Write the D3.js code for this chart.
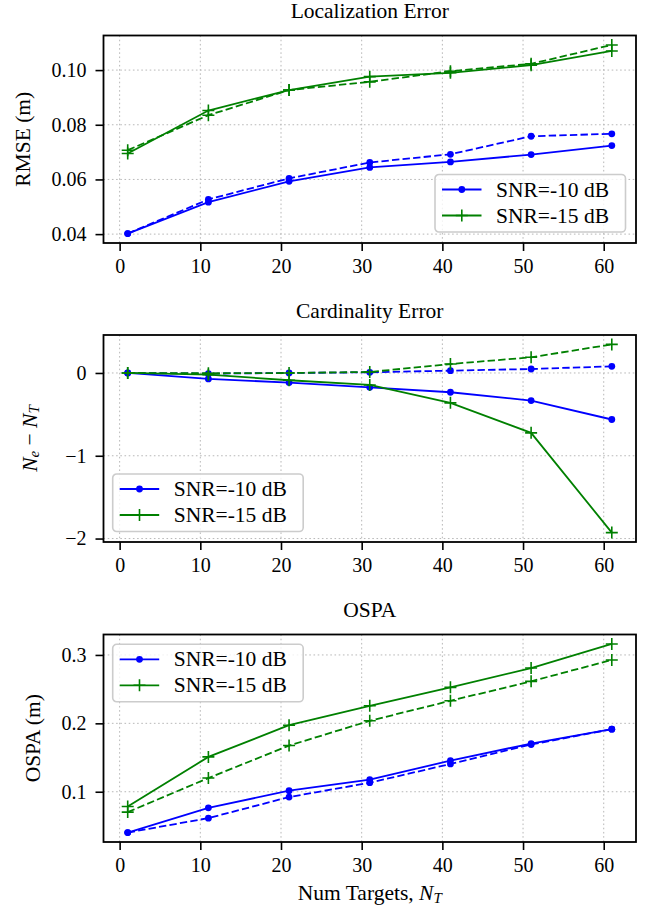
<!DOCTYPE html>
<html>
<head>
<meta charset="utf-8">
<script src="https://cdn.jsdelivr.net/npm/d3@7"></script>
<style>
  html, body { margin: 0; padding: 0; background: #fff; }
  svg { display: block; }
</style>
</head>
<body>
<svg id="chart" width="649" height="910"></svg>
<script>
// ---------------- DATA ----------------
const numTargets = [1, 11, 21, 31, 41, 51, 61];
const xTicks = [0, 10, 20, 30, 40, 50, 60];

const seriesLabels = ["SNR=-10 dB", "SNR=-15 dB"];

// Localization error (RMSE, m)
const rmseSnr10Solid  = [0.0402, 0.0517, 0.0593, 0.0644, 0.0664, 0.0691, 0.0724];
const rmseSnr10Dashed = [0.0402, 0.0527, 0.0604, 0.0662, 0.0692, 0.0758, 0.0767];
const rmseSnr15Solid  = [0.0695, 0.0852, 0.0927, 0.0976, 0.0990, 0.1018, 0.1070];
const rmseSnr15Dashed = [0.0707, 0.0835, 0.0927, 0.0957, 0.0996, 0.1023, 0.1092];
const rmseTicks = [0.04, 0.06, 0.08, 0.10];

// Cardinality error (N_e - N_T)
const cardSnr10Solid  = [0.000, -0.072, -0.116, -0.173, -0.233, -0.333, -0.562];
const cardSnr10Dashed = [0.000, -0.008,  0.000,  0.008,  0.028,  0.048,  0.080];
const cardSnr15Solid  = [0.000, -0.020, -0.088, -0.145, -0.361, -0.723, -1.928];
const cardSnr15Dashed = [0.000, -0.004,  0.000,  0.012,  0.108,  0.189,  0.345];
const cardTicks = [-2, -1, 0];

// OSPA (m)
const ospaSnr10Solid  = [0.0403, 0.0765, 0.1015, 0.1176, 0.1455, 0.1704, 0.1914];
const ospaSnr10Dashed = [0.0403, 0.0614, 0.0922, 0.1132, 0.1406, 0.1690, 0.1914];
const ospaSnr15Solid  = [0.0785, 0.1509, 0.1973, 0.2257, 0.2526, 0.2809, 0.3161];
const ospaSnr15Dashed = [0.0702, 0.1200, 0.1675, 0.2037, 0.2330, 0.2614, 0.2927];
const ospaTicks = [0.1, 0.2, 0.3];

// ---------------- STYLE / LAYOUT ----------------
const FONT = "'Liberation Serif', 'Times New Roman', serif";
const BLUE = "#0000ff", GREEN = "#008000";
const axLeft = 103.5, axRight = 636;

const panels = [
  { title: "Localization Error", top: 35.5, bottom: 243,
    data: [rmseSnr10Solid, rmseSnr10Dashed, rmseSnr15Solid, rmseSnr15Dashed],
    yTicks: rmseTicks, fmt: d3.format(".2f"), ylabel: "RMSE (m)", ylabelX: 23,
    legend: { x: 435, y: 174.5 } },
  { title: "Cardinality Error", top: 335, bottom: 542,
    data: [cardSnr10Solid, cardSnr10Dashed, cardSnr15Solid, cardSnr15Dashed],
    yTicks: cardTicks, fmt: d3.format("d"), ylabel: null, ylabelX: 30,
    legend: { x: 112.7, y: 474 } },
  { title: "OSPA", top: 634.5, bottom: 842,
    data: [ospaSnr10Solid, ospaSnr10Dashed, ospaSnr15Solid, ospaSnr15Dashed],
    yTicks: ospaTicks, fmt: d3.format(".1f"), ylabel: "OSPA (m)", ylabelX: 33,
    legend: { x: 112.7, y: 644.3 } }
];

const svg = d3.select("#chart");

function padDomain(vals) {
  const [lo, hi] = d3.extent(vals);
  const m = (hi - lo) * 0.05;
  return [lo - m, hi + m];
}

const x = d3.scaleLinear().domain(padDomain(numTargets)).range([axLeft, axRight]);

const plusPath = s => `M${-s/2},0H${s/2}M0,${-s/2}V${s/2}`;

function drawMarker(g, kind, cx, cy, color) {
  if (kind === "dot") {
    g.append("circle").attr("cx", cx).attr("cy", cy).attr("r", 3.4).attr("fill", color);
  } else {
    g.append("path").attr("transform", `translate(${cx},${cy})`).attr("d", plusPath(12))
      .attr("stroke", color).attr("stroke-width", 1.6).attr("fill", "none");
  }
}

panels.forEach((p, pi) => {
  const g = svg.append("g");
  const allVals = p.data.flat();
  const y = d3.scaleLinear().domain(padDomain(allVals)).range([p.bottom, p.top]);

  // grid
  const grid = g.append("g").attr("stroke", "#b8b8b8").attr("stroke-width", 1)
    .attr("stroke-dasharray", "1.6,2.6");
  xTicks.forEach(t => grid.append("line").attr("x1", x(t)).attr("x2", x(t))
    .attr("y1", p.top).attr("y2", p.bottom));
  p.yTicks.forEach(t => grid.append("line").attr("x1", axLeft).attr("x2", axRight)
    .attr("y1", y(t)).attr("y2", y(t)));

  // series
  const styles = [
    { color: BLUE, dash: null, marker: "dot" },
    { color: BLUE, dash: "7.4,3.2", marker: "dot" },
    { color: GREEN, dash: null, marker: "plus" },
    { color: GREEN, dash: "7.4,3.2", marker: "plus" }
  ];
  const line = d3.line().x((d, i) => x(numTargets[i])).y(d => y(d));
  p.data.forEach((vals, si) => {
    const st = styles[si];
    const sg = g.append("g");
    sg.append("path").attr("d", line(vals)).attr("fill", "none")
      .attr("stroke", st.color).attr("stroke-width", 1.8)
      .attr("stroke-dasharray", st.dash);
    vals.forEach((v, i) => drawMarker(sg, st.marker, x(numTargets[i]), y(v), st.color));
  });

  // axes
  const xa = g.append("g").attr("transform", `translate(0,${p.bottom})`)
    .call(d3.axisBottom(x).tickValues(xTicks).tickFormat(d3.format("d"))
      .tickSizeInner(8).tickSizeOuter(0).tickPadding(8));
  const ya = g.append("g").attr("transform", `translate(${axLeft},0)`)
    .call(d3.axisLeft(y).tickValues(p.yTicks).tickFormat(p.fmt)
      .tickSizeInner(8).tickSizeOuter(0).tickPadding(9));
  [xa, ya].forEach(a => {
    a.select(".domain").remove();
    a.selectAll(".tick line").attr("stroke", "#000").attr("stroke-width", 1.6);
    a.selectAll(".tick text").attr("font-family", FONT).attr("font-size", 20)
      .attr("fill", "#000");
  });

  // frame
  g.append("rect").attr("x", axLeft).attr("y", p.top)
    .attr("width", axRight - axLeft).attr("height", p.bottom - p.top)
    .attr("fill", "none").attr("stroke", "#000").attr("stroke-width", 1.8);

  // title
  g.append("text").attr("x", (axLeft + axRight) / 2).attr("y", p.top - 17.5)
    .attr("text-anchor", "middle").attr("font-family", FONT).attr("font-size", 21.5)
    .text(p.title);

  // y label
  const yl = g.append("text")
    .attr("transform", `translate(${p.ylabelX},${(p.top + p.bottom) / 2}) rotate(-90)`)
    .attr("text-anchor", "middle").attr("dominant-baseline", "central")
    .attr("font-family", FONT).attr("font-size", 21.5);
  if (p.ylabel) {
    yl.text(p.ylabel);
  } else {
    yl.append("tspan").attr("font-style", "italic").text("N");
    yl.append("tspan").attr("font-style", "italic").attr("font-size", 15).attr("dy", 4).text("e");
    yl.append("tspan").attr("dy", -4).text(" − ");
    yl.append("tspan").attr("font-style", "italic").text("N");
    yl.append("tspan").attr("font-style", "italic").attr("font-size", 15).attr("dy", 4).text("T");
  }

  // legend
  const L = p.legend, lw = 190.5, lh = 57.5;
  const lg = g.append("g").attr("transform", `translate(${L.x},${L.y})`);
  lg.append("rect").attr("width", lw).attr("height", lh).attr("rx", 4).attr("ry", 4)
    .attr("fill", "#fff").attr("fill-opacity", 0.8)
    .attr("stroke", "#cccccc").attr("stroke-width", 1.6);
  const legendStyles = [styles[0], styles[2]];
  seriesLabels.forEach((lab, k) => {
    const ry = k === 0 ? 15 : 41;
    const st = legendStyles[k];
    lg.append("line").attr("x1", 7).attr("x2", 46.5).attr("y1", ry).attr("y2", ry)
      .attr("stroke", st.color).attr("stroke-width", 1.8);
    drawMarker(lg, st.marker, 26.8, ry, st.color);
    lg.append("text").attr("x", 61).attr("y", ry).attr("dominant-baseline", "central")
      .attr("font-family", FONT).attr("font-size", 21.5).text(lab);
  });

  // x label (bottom panel only)
  if (pi === panels.length - 1) {
    const xl = g.append("text").attr("x", (axLeft + axRight) / 2).attr("y", 900)
      .attr("text-anchor", "middle").attr("font-family", FONT).attr("font-size", 21.5);
    xl.append("tspan").text("Num Targets, ");
    xl.append("tspan").attr("font-style", "italic").text("N");
    xl.append("tspan").attr("font-style", "italic").attr("font-size", 15).attr("dy", 3).text("T");
  }
});
</script>
</body>
</html>
